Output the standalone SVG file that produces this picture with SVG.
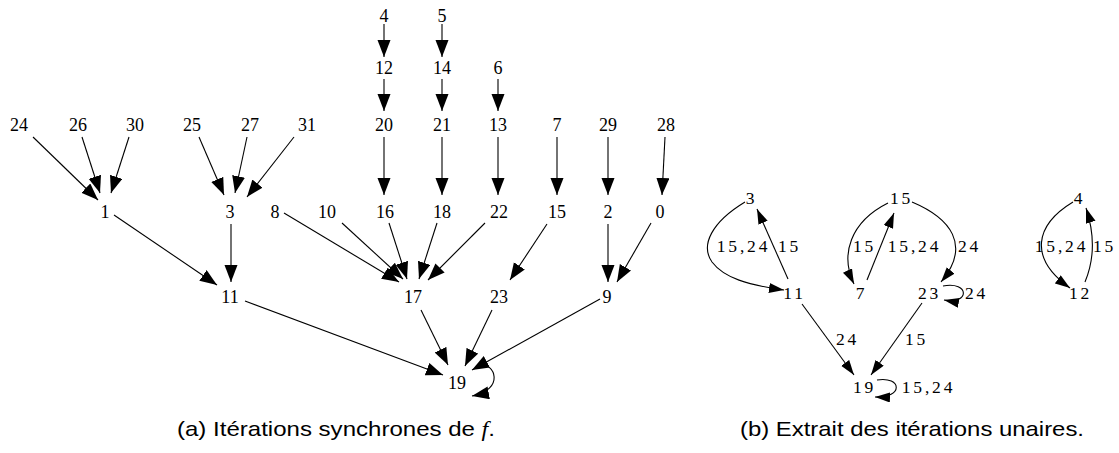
<svg xmlns="http://www.w3.org/2000/svg" width="1119" height="453" viewBox="0 0 1119 453">
<style>
.na{font-family:"Liberation Serif","Times New Roman",serif;font-size:18px;text-anchor:middle;fill:#000}
.nb{font-family:"Liberation Serif","Times New Roman",serif;font-size:17.5px;letter-spacing:2.8px;text-anchor:middle;fill:#000}
.cap{font-family:"Liberation Sans",Arial,sans-serif;font-size:21px;fill:#000}
.ea{fill:none;stroke:#000;stroke-width:1.1;marker-end:url(#ha)}
.eb{fill:none;stroke:#000;stroke-width:1.1;marker-end:url(#hb)}
</style>
<defs>
<marker id="ha" markerUnits="userSpaceOnUse" markerWidth="18" markerHeight="14" refX="17" refY="6.5" orient="auto"><path d="M0,0 L17,6.5 L0,13 z" fill="#000"/></marker>
<marker id="hb" markerUnits="userSpaceOnUse" markerWidth="16" markerHeight="11" refX="15" refY="5" orient="auto"><path d="M0,0 L15,5 L0,10 z" fill="#000"/></marker>
</defs>
<rect width="1119" height="453" fill="#fff"/>

<g id="connectors-a">
<path class="ea" d="M33,137 L98,200"/>
<path class="ea" d="M82,137 L100,193"/>
<path class="ea" d="M129,137 L111,193"/>
<path class="ea" d="M199,137 L224,195"/>
<path class="ea" d="M247,137 L235,193"/>
<path class="ea" d="M294,137 L247,197"/>
<path class="ea" d="M384,24 L384,57"/>
<path class="ea" d="M442,24 L442,57"/>
<path class="ea" d="M384,79 L384,111"/>
<path class="ea" d="M442,79 L442,111"/>
<path class="ea" d="M498,79 L498,111"/>
<path class="ea" d="M384,137 L384,195"/>
<path class="ea" d="M442,137 L442,195"/>
<path class="ea" d="M498,137 L498,195"/>
<path class="ea" d="M557,137 L557,195"/>
<path class="ea" d="M608,137 L608,195"/>
<path class="ea" d="M665,137 L662,195"/>
<path class="ea" d="M114,215 L217,285"/>
<path class="ea" d="M231,224 L231,282"/>
<path class="ea" d="M284,213 L399,282"/>
<path class="ea" d="M342,223 L403,279"/>
<path class="ea" d="M389,223 L407,279"/>
<path class="ea" d="M437,223 L419,279"/>
<path class="ea" d="M485,223 L428,280"/>
<path class="ea" d="M547,224 L510,280"/>
<path class="ea" d="M608,224 L608,282"/>
<path class="ea" d="M651,223 L617,282"/>
<path class="ea" d="M245,301 L443,375"/>
<path class="ea" d="M421,310 L448,365"/>
<path class="ea" d="M492,310 L465,366"/>
<path class="ea" d="M600,299 L472,370"/>
<path class="ea" d="M478,364 C496,362 505,390 472,396"/>
</g>

<g id="a-n4"><text class="na" x="384" y="22">4</text></g>
<g id="a-n5"><text class="na" x="442" y="22">5</text></g>
<g id="a-n12"><text class="na" x="384" y="74">12</text></g>
<g id="a-n14"><text class="na" x="442" y="74">14</text></g>
<g id="a-n6"><text class="na" x="498" y="74">6</text></g>
<g id="a-n24"><text class="na" x="19" y="130.5">24</text></g>
<g id="a-n26"><text class="na" x="78" y="130.5">26</text></g>
<g id="a-n30"><text class="na" x="135" y="130.5">30</text></g>
<g id="a-n25"><text class="na" x="192" y="130.5">25</text></g>
<g id="a-n27"><text class="na" x="250" y="130.5">27</text></g>
<g id="a-n31"><text class="na" x="307" y="130.5">31</text></g>
<g id="a-n20"><text class="na" x="384" y="130.5">20</text></g>
<g id="a-n21"><text class="na" x="442" y="130.5">21</text></g>
<g id="a-n13"><text class="na" x="498" y="130.5">13</text></g>
<g id="a-n7"><text class="na" x="557" y="130.5">7</text></g>
<g id="a-n29"><text class="na" x="608" y="130.5">29</text></g>
<g id="a-n28"><text class="na" x="666" y="130.5">28</text></g>
<g id="a-n1"><text class="na" x="105" y="218">1</text></g>
<g id="a-n3"><text class="na" x="230" y="218">3</text></g>
<g id="a-n8"><text class="na" x="275" y="218">8</text></g>
<g id="a-n10"><text class="na" x="327" y="218">10</text></g>
<g id="a-n16"><text class="na" x="385" y="218">16</text></g>
<g id="a-n18"><text class="na" x="442" y="218">18</text></g>
<g id="a-n22"><text class="na" x="499" y="218">22</text></g>
<g id="a-n15"><text class="na" x="557" y="218">15</text></g>
<g id="a-n2"><text class="na" x="608" y="218">2</text></g>
<g id="a-n0"><text class="na" x="660" y="218">0</text></g>
<g id="a-n11"><text class="na" x="230" y="302.5">11</text></g>
<g id="a-n17"><text class="na" x="413" y="302.5">17</text></g>
<g id="a-n23"><text class="na" x="499" y="302.5">23</text></g>
<g id="a-n9"><text class="na" x="607" y="302.5">9</text></g>
<g id="a-n19"><text class="na" x="457" y="389">19</text></g>

<g id="connectors-b">
<path class="eb" d="M745,202 C712,222 700,245 712,262 C724,278 748,285 784,290"/>
<path class="eb" d="M788,279 L757,209"/>
<path class="eb" d="M888,203 C850,222 840,255 854,284"/>
<path class="eb" d="M867,280 L894,213"/>
<path class="eb" d="M912,202 C950,218 972,245 941,282"/>
<path class="eb" d="M943,286 C970,281 970,305 944,300"/>
<path class="eb" d="M1073,202 C1035,225 1028,258 1070,288"/>
<path class="eb" d="M1085,282 C1095,258 1094,232 1086,208"/>
<path class="eb" d="M802,304 L854,375"/>
<path class="eb" d="M922,303 L871,375"/>
<path class="eb" d="M877,380 C902,376 904,398 875,397"/>
<g class="nb">
<text x="743.5" y="252">15,24</text>
<text x="789.5" y="252">15</text>
<text x="864.5" y="252">15</text>
<text x="914.5" y="252">15,24</text>
<text x="969.5" y="252">24</text>
<text x="976.5" y="299">24</text>
<text x="1061.5" y="252">15,24</text>
<text x="1104.5" y="252">15</text>
<text x="847.5" y="345">24</text>
<text x="916.5" y="345">15</text>
<text x="928.5" y="393">15,24</text>
</g>
</g>

<g id="b-n3"><text class="nb" x="751.5" y="204">3</text></g>
<g id="b-n15"><text class="nb" x="901.5" y="204">15</text></g>
<g id="b-n4"><text class="nb" x="1079.5" y="204">4</text></g>
<g id="b-n11"><text class="nb" x="794.5" y="299">11</text></g>
<g id="b-n7"><text class="nb" x="861.5" y="299">7</text></g>
<g id="b-n23"><text class="nb" x="929.5" y="299">23</text></g>
<g id="b-n12"><text class="nb" x="1080.5" y="299">12</text></g>
<g id="b-n19"><text class="nb" x="864.5" y="393">19</text></g>

<g id="caption-a"><text class="cap" x="177" y="436" textLength="318" lengthAdjust="spacingAndGlyphs">(a)  Itérations synchrones de <tspan font-family="'Liberation Serif',serif" font-style="italic">f</tspan>.</text></g>
<g id="caption-b"><text class="cap" x="740" y="436" textLength="344" lengthAdjust="spacingAndGlyphs">(b)  Extrait des itérations unaires.</text></g>
</svg>
